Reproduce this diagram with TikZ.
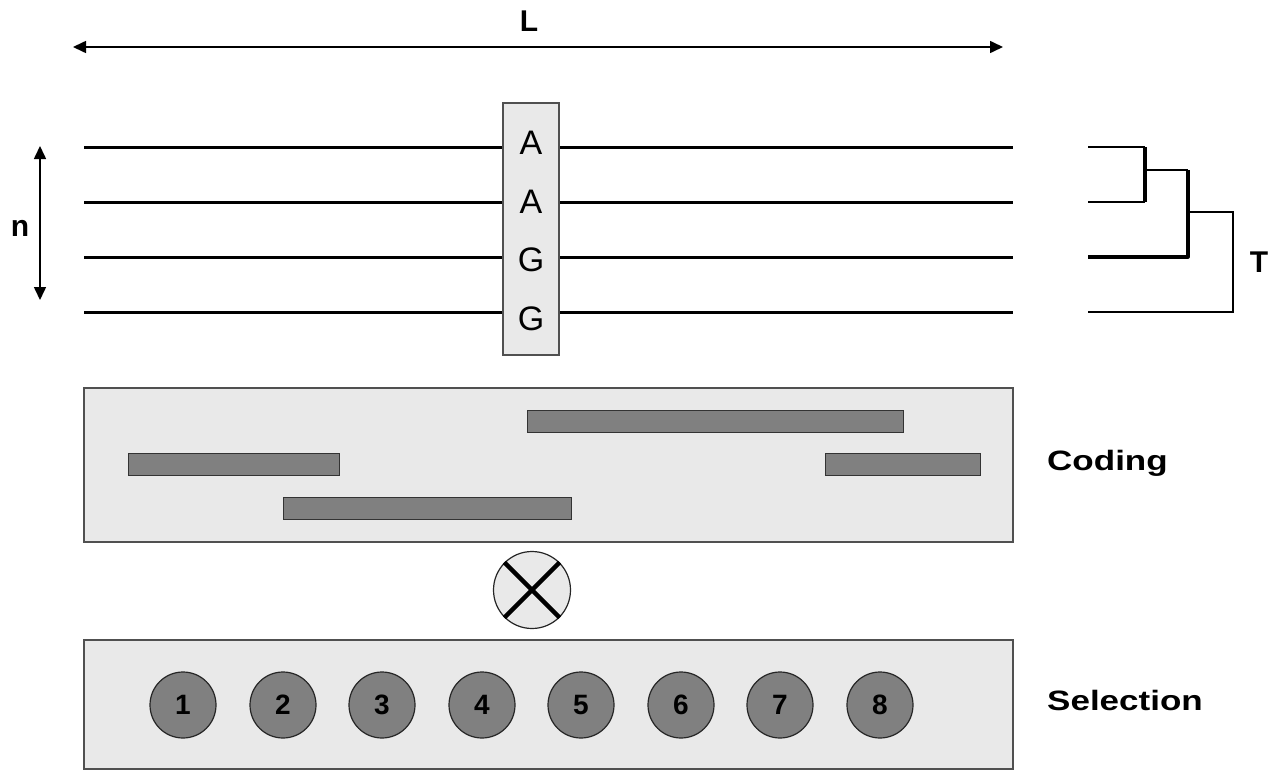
\documentclass[tikz,border=0pt]{standalone}
\usepackage{fontspec}
\setmainfont{Liberation Sans}
\newfontfamily\widefont[FakeStretch=1.25]{Liberation Sans}
\usetikzlibrary{arrows.meta}
\definecolor{boxfill}{RGB}{233,233,233}
\definecolor{barfill}{RGB}{128,128,128}
\definecolor{boxline}{RGB}{80,80,80}
\tikzset{
  dim/.style={line width=1.6pt,{Triangle[length=13pt,width=12pt]}-{Triangle[length=13pt,width=12pt]}},
  seqline/.style={line width=3pt},
  panel/.style={draw=boxline,line width=1.2pt,fill=boxfill},
  bar/.style={draw=black!80,line width=1pt,fill=barfill},
  num/.style={circle,draw=black!85,line width=1.2pt,fill=barfill,minimum size=66pt,inner sep=0pt,font=\fontsize{28}{30}\selectfont\bfseries},
  lab/.style={font=\fontsize{30}{32}\selectfont\bfseries},
  sidelab/.style={font=\widefont\fontsize{28}{32}\selectfont\bfseries,anchor=west,inner sep=0pt},
  base/.style={font=\fontsize{34}{36}\selectfont,inner sep=0pt},
  treethin/.style={line width=2pt},
  treethick/.style={line width=3.2pt}
}
\begin{document}
\begin{tikzpicture}[x=1pt,y=-1pt]
\useasboundingbox (0,0) rectangle (1283,771);
% L dimension
\coordinate (La) at (73,47);
\coordinate (Lb) at (1003,47);
\draw[dim] (La) -- (Lb);
\node[lab] (L) at (529,21) {L};
% n dimension
\coordinate (na) at (40,146);
\coordinate (nb) at (40,300);
\draw[dim] (na) -- (nb);
\node[lab] (n) at (20,228) {n};
% sequences
\foreach \i/\y in {1/147,2/202,3/257,4/312}{
  \coordinate (s\i l) at (84,\y);
  \coordinate (s\i r) at (1013,\y);
  \draw[seqline] (s\i l) -- (s\i r);
}
% alignment column
\node[panel,minimum width=56pt,minimum height=252pt,inner sep=0pt] (col) at (531,229) {};
\node[base] (b1) at (531,143) {A};
\node[base] (b2) at (531,202) {A};
\node[base] (b3) at (531,260) {G};
\node[base] (b4) at (531,319) {G};
% tree
\coordinate (t1) at (1088,147);
\coordinate (t2) at (1088,202);
\coordinate (t3) at (1088,257);
\coordinate (t4) at (1088,312);
\coordinate (j1a) at (1145,147);
\coordinate (j1b) at (1145,202);
\coordinate (j1m) at (1145,170);
\coordinate (j2a) at (1188,170);
\coordinate (j2b) at (1188,257);
\coordinate (j2m) at (1188,212);
\coordinate (j3a) at (1233,212);
\coordinate (j3b) at (1233,312);
\draw[treethin] (t1) -- (j1a);
\draw[treethin] (t2) -- (j1b);
\draw[treethick] (j1a) -- (j1b);
\draw[treethin] (j1m) -- (j2a);
\draw[treethick,line join=round] (j2a) -- (j2b) -- (t3);
\draw[treethin] (j2m) -- (j3a) -- (j3b) -- (t4);
\node[lab] (T) at (1259,262) {T};
% coding panel
\node[panel,minimum width=929pt,minimum height=154pt,inner sep=0pt] (coding) at (548.5,465) {};
\draw[bar] (527,410) rectangle (903,432);
\draw[bar] (128,453) rectangle (339,475);
\draw[bar] (825,453) rectangle (980,475);
\draw[bar] (283,497) rectangle (571,519);
\node[sidelab] (codl) at (1047,463) {Coding};
% product sign
\node[circle,draw=black!85,line width=1.2pt,fill=boxfill,minimum size=77pt,inner sep=0pt] (times) at (532,590) {};
\draw[line width=4.5pt] (times.45) -- (times.225);
\draw[line width=4.5pt] (times.135) -- (times.315);
% selection panel
\node[panel,minimum width=929pt,minimum height=129pt,inner sep=0pt] (sel) at (548.5,704.5) {};
\foreach \k/\x in {1/183,2/283,3/382,4/482,5/581,6/681,7/780,8/880}{
  \node[num] (c\k) at (\x,705) {\k};
}
\node[sidelab] (sell) at (1047,700) {Selection};
\end{tikzpicture}
\end{document}
